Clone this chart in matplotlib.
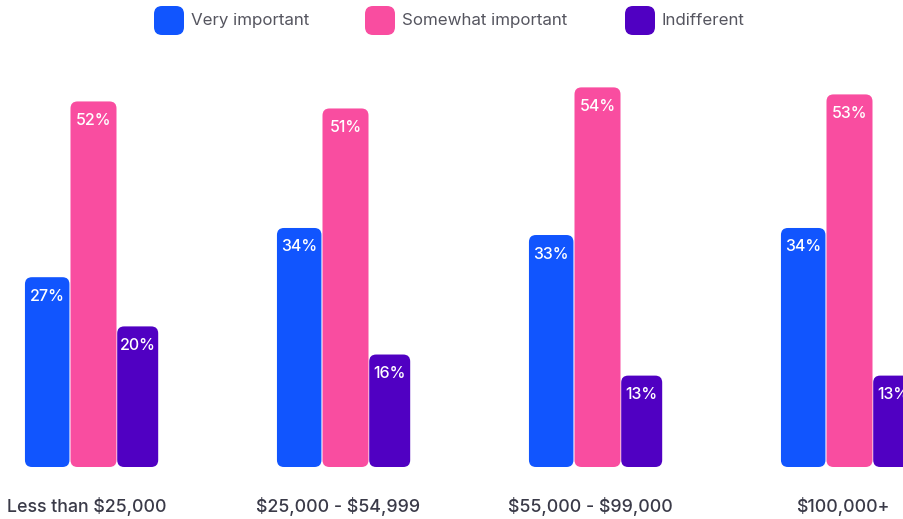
import numpy as np
import matplotlib.pyplot as plt
from matplotlib.patches import FancyBboxPatch

plt.rcParams['font.family'] = ['Inter', 'DejaVu Sans']

groups = ["Less than $25,000", "$25,000 - $54,999", "$55,000 - $99,000", "$100,000+"]
series = ["Very important", "Somewhat important", "Indifferent"]
very_important = [27, 34, 33, 34]
somewhat_important = [52, 51, 54, 53]
indifferent = [20, 16, 13, 13]
colors = ["#1155FE", "#F94DA0", "#5000C2"]

data = [very_important, somewhat_important, indifferent]

fig = plt.figure(figsize=(9.04, 5.19), dpi=100)
ax = fig.add_axes([0, 0, 1, 1])

px_x = 252.0   # pixels per group unit
px_y = 7.03    # pixels per percent
widths = [44.5 / px_x, 46 / px_x, 41 / px_x]
offsets = [-46.3 / px_x, 0.0, 44.2 / px_x]
x = np.arange(len(groups))
r = 7.0 / px_x

for i, vals in enumerate(data):
    bars = ax.bar(x + offsets[i], vals, widths[i], color=colors[i])
    for b, v in zip(bars, vals):
        bx, by, bw, bh = b.get_x(), b.get_y(), b.get_width(), b.get_height()
        b.remove()
        p = FancyBboxPatch((bx, by), bw, bh,
                           boxstyle=f"round,pad=0,rounding_size={r}",
                           mutation_aspect=px_x / px_y,
                           fc=colors[i], ec='none')
        ax.add_patch(p)
        ax.text(bx + bw / 2, v - 19 / px_y, f"{v}%", color='white',
                ha='center', va='center', fontsize=11.5, fontweight='medium')

for xi, g in zip(x, groups):
    ax.text(xi - 7 / px_x, -40 / px_y, g, ha='center', va='center',
            fontsize=12.8, color='#3a3a48', fontweight='medium', parse_math=False)

ax.set_xlim(-93.5 / px_x, (904 - 93.5) / px_x)
ax.set_ylim(-52 / px_y, (519 - 52) / px_y)
ax.axis('off')

# legend with rounded swatches
leg_x = [154, 365, 625]
for lx, name, c in zip(leg_x, series, colors):
    sw = FancyBboxPatch((lx / 904, 1 - 35 / 519), 30 / 904, 29 / 519,
                        boxstyle=f"round,pad=0,rounding_size={8 / 904}",
                        mutation_aspect=904 / 519,
                        transform=fig.transFigure, fc=c, ec='none')
    fig.patches.append(sw)
    fig.text((lx + 37) / 904, 1 - 20.5 / 519, name, ha='left', va='center',
             fontsize=12.2, color='#55555f')

fig.savefig("out.png", dpi=100)
